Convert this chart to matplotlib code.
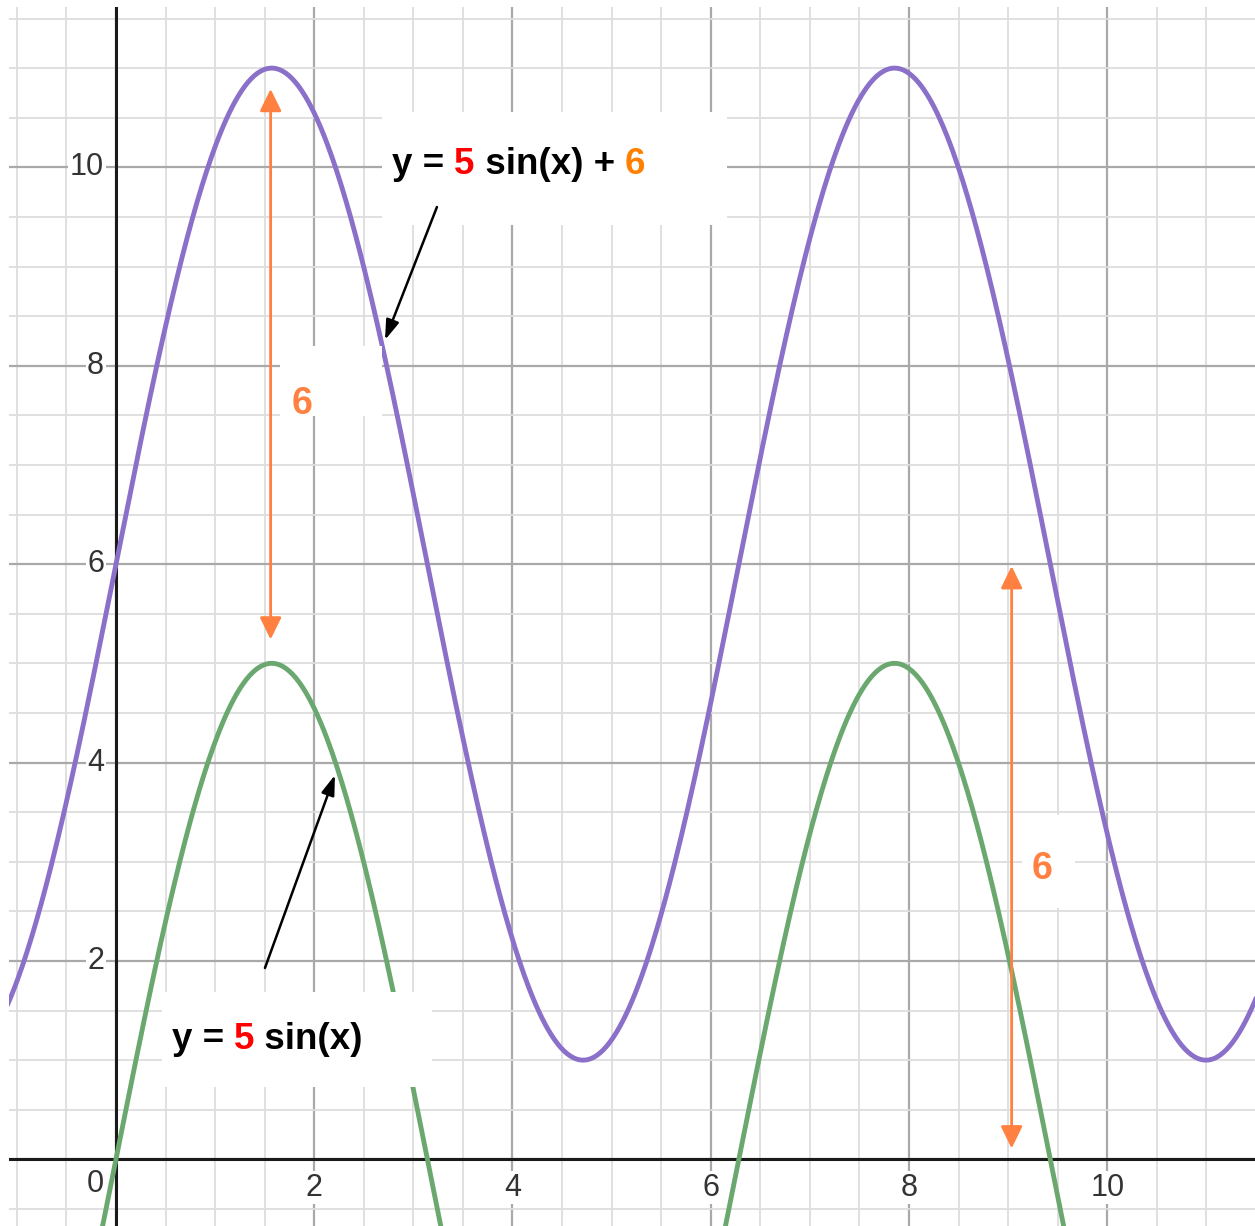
import numpy as np
import matplotlib
matplotlib.use("Agg")
import matplotlib.pyplot as plt
from matplotlib.patches import Rectangle

plt.rcParams['font.family'] = ['Liberation Sans', 'DejaVu Sans']

# y = a*sin(x) + d
amplitude = 5
shift = 6
x_curve = np.linspace(-1.2, 11.6, 800)

x_tick_vals = [2, 4, 6, 8, 10]
y_tick_vals = [2, 4, 6, 8, 10]

# vertical shift arrows: (x, y_low, y_high)
shift_arrows = [(1.56, 5.24, 10.79), (9.035, 0.11, 5.98)]
shift_label_pos = [(1.88, 7.61), (9.34, 2.93)]

# pointer arrows: (x_start, y_start, x_tip, y_tip)
pointer_arrows = [(3.238, 9.60, 2.714, 8.26), (1.503, 1.929, 2.209, 3.874)]

PURPLE = '#8a70c9'
GREEN = '#6aa870'
ORANGE = '#ff8040'
RED = '#ff0000'
ORANGE_TXT = '#ff8000'

fig = plt.figure(figsize=(12.55, 12.26), dpi=100)
ax = fig.add_axes([9 / 1255, 0, 1246 / 1255, 1219 / 1226])

# grid
ax.set_xticks(np.arange(-2, 13, 2))
ax.set_yticks(np.arange(-2, 13, 2))
ax.set_xticks(np.arange(-1, 12, 0.5), minor=True)
ax.set_yticks(np.arange(-1, 12, 0.5), minor=True)
ax.grid(which='major', color='#a9a9a9', lw=1.6, zorder=0)
ax.grid(which='minor', color='#dddddd', lw=1.3, zorder=0)
ax.tick_params(which='both', length=0, labelbottom=False, labelleft=False)
ax.set_axisbelow(True)
for sp in ax.spines.values():
    sp.set_visible(False)
ax.set_xlim(-1.079, 11.49)
ax.set_ylim(-0.672, 11.616)

# axes lines
ax.axhline(0, color='#1a1a1a', lw=2.2, zorder=1)
ax.axvline(0, color='#1a1a1a', lw=2.2, zorder=1)

# tick labels
box = dict(boxstyle='square,pad=0.05', fc='white', ec='none')
for v in x_tick_vals:
    ax.text(v, -0.284, str(v), ha='center', va='center', fontsize=22,
            color='#333333', bbox=box, zorder=2)
for v in y_tick_vals:
    ax.text(-0.12, v, str(v), ha='right', va='center', fontsize=22,
            color='#333333', bbox=box, zorder=2)
ax.text(-0.12, -0.245, '0', ha='right', va='center', fontsize=22,
        color='#333333', bbox=box, zorder=2)

# curves
ax.plot(x_curve, amplitude * np.sin(x_curve) + shift, color=PURPLE, lw=3.5,
        zorder=3, solid_capstyle='round')
ax.plot(x_curve, amplitude * np.sin(x_curve), color=GREEN, lw=3.5,
        zorder=3, solid_capstyle='round')

# shift arrows
for x, y0, y1 in shift_arrows:
    ax.annotate('', xy=(x, y1), xytext=(x, y0),
                arrowprops=dict(arrowstyle='<|-|>,head_length=0.45,head_width=0.22',
                                color=ORANGE, lw=2.0, mutation_scale=30,
                                shrinkA=0, shrinkB=0), zorder=4)

# white label boxes
label_boxes = [(2.683, 9.418, 3.481, 1.139), (0.464, 0.729, 2.724, 0.957),
               (1.654, 7.494, 1.029, 0.706), (9.140, 2.533, 0.534, 0.938)]
for bx, by, bw, bh in label_boxes:
    ax.add_patch(Rectangle((bx, by), bw, bh, fc='white', ec='none', zorder=5))

for (lx, ly) in shift_label_pos:
    ax.text(lx, ly, str(shift), ha='center', va='center', fontsize=27,
            fontweight='bold', color=ORANGE, zorder=6)


def colored_text(x, y, parts, **kw):
    t = ax.text(x, y, parts[0][0], color=parts[0][1], ha='left', va='center',
                zorder=6, **kw)
    for s, c in parts[1:]:
        t = ax.annotate(s, xycoords=t, xy=(1, 0), va='bottom', ha='left',
                        color=c, zorder=6, **kw)
    return t


eq_kw = dict(fontsize=26.5, fontweight='bold')
colored_text(2.784, 10.03, [('y = ', 'black'), (str(amplitude), RED),
                            (' sin(x) + ', 'black'), (str(shift), ORANGE_TXT)], **eq_kw)
colored_text(0.562, 1.213, [('y = ', 'black'), (str(amplitude), RED),
                            (' sin(x)', 'black')], **eq_kw)

# pointer arrows
for xs, ys, xt, yt in pointer_arrows:
    ax.annotate('', xy=(xt, yt), xytext=(xs, ys),
                arrowprops=dict(arrowstyle='-|>,head_length=0.6,head_width=0.2',
                                color='black', lw=1.8, mutation_scale=20,
                                shrinkA=0, shrinkB=0), zorder=7)

fig.savefig('out.png', dpi=100)
